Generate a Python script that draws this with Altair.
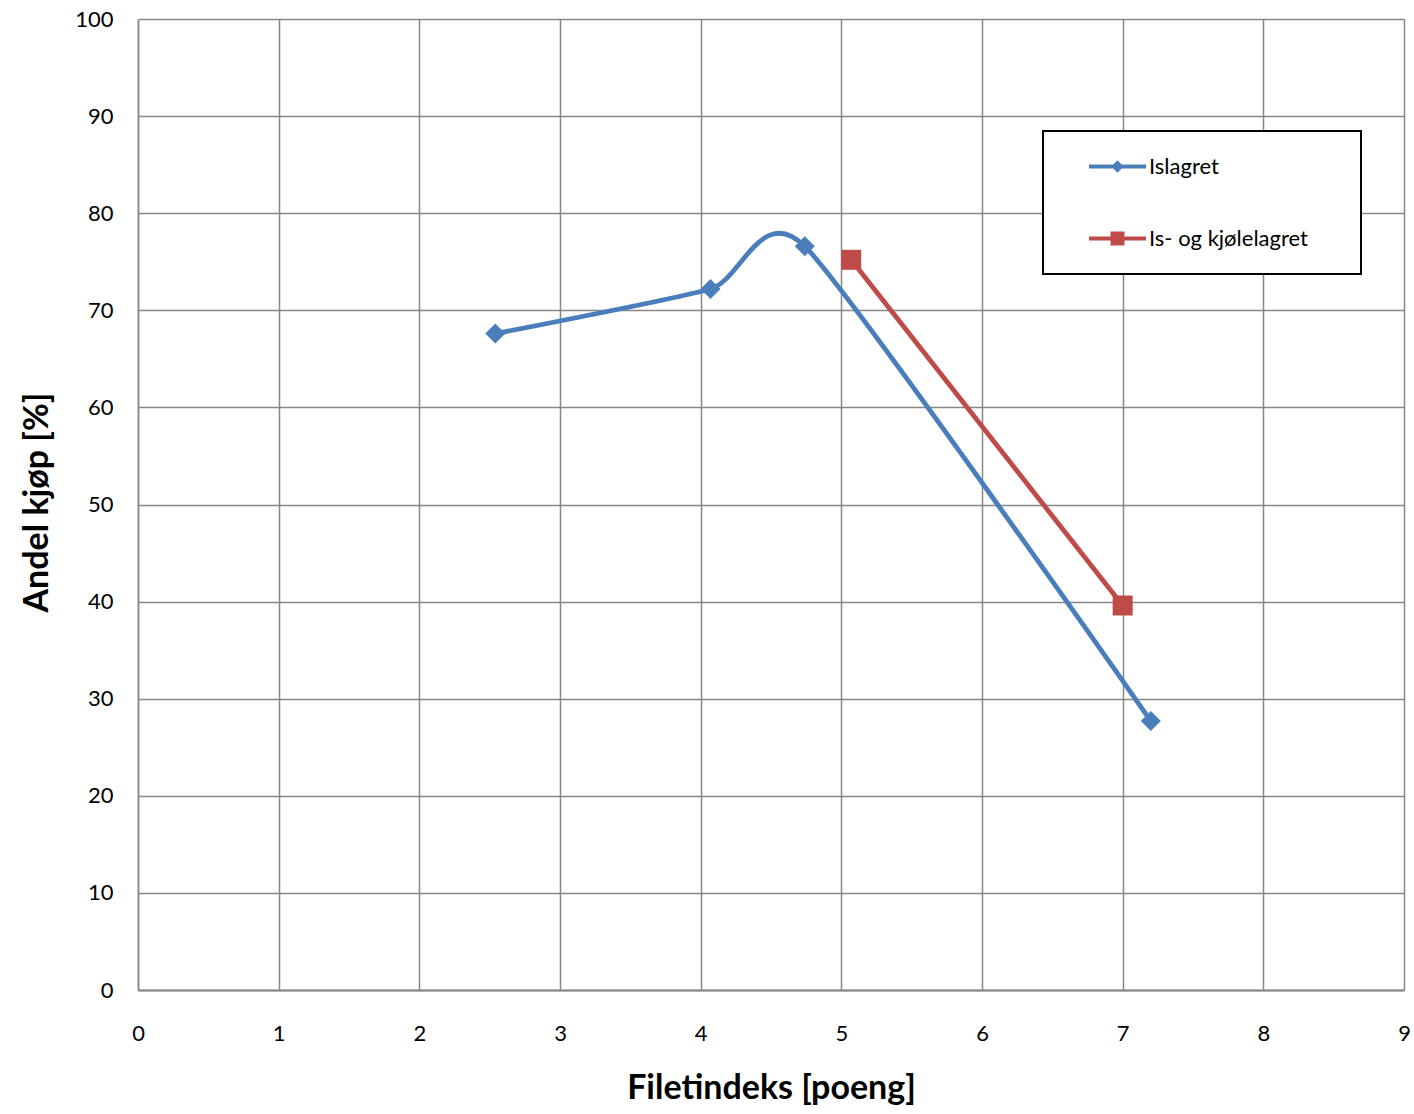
import altair as alt
import pandas as pd

series_names = ["Islagret", "Is- og kjølelagret"]
islagret_x = [2.54, 4.07, 4.74, 7.20]
islagret_y = [67.6, 72.2, 76.6, 27.7]
kjole_x = [5.07, 7.00]
kjole_y = [75.2, 39.6]
x_ticks = list(range(0, 10))
y_ticks = list(range(0, 101, 10))

colors = ["#4a7ebb", "#be4b48"]
legend_paths = [
    "M0,-1M0,1M-1,-0.07H1V0.07H-1Z M0,-0.217L0.217,0L0,0.217L-0.217,0Z",
    "M0,-1M0,1M-1,-0.07H1V0.07H-1Z M-0.245,-0.245H0.245V0.245H-0.245Z",
]

rows = []
for xv, yv in zip(islagret_x, islagret_y):
    rows.append({"serie": series_names[0], "x": xv, "y": yv})
for xv, yv in zip(kjole_x, kjole_y):
    rows.append({"serie": series_names[1], "x": xv, "y": yv})
df = pd.DataFrame(rows)

grid_col = "#878787"

x_enc = alt.X(
    "x:Q",
    scale=alt.Scale(domain=[0, 9], nice=False),
    axis=alt.Axis(
        values=x_ticks, grid=True, ticks=False, labelFlush=False,
        labelFontSize=22, labelPadding=33, labelColor="black",
        domainColor=grid_col, domainWidth=2,
        gridColor=grid_col, gridWidth=1.5,
        title="Filetindeks [poeng]", titleFontSize=34, titleFontWeight="bold",
        titleColor="black", titleBaseline="alphabetic", titleY=108,
    ),
)
y_enc = alt.Y(
    "y:Q",
    scale=alt.Scale(domain=[0, 100], nice=False),
    axis=alt.Axis(
        values=y_ticks, grid=True, ticks=False,
        labelFontSize=22, labelPadding=25, labelColor="black",
        domainColor=grid_col, domainWidth=1.5,
        gridColor=grid_col, gridWidth=1.5,
        title="Andel kjøp [%]", titleFontSize=34, titleFontWeight="bold",
        titleColor="black", titleBaseline="alphabetic", titleX=-91, titleY=483,
        titleAngle=270, titleAlign="center",
    ),
)

legend = alt.Legend(
    title=" ", titleOrient="right", titlePadding=46, titleFontSize=10,
    orient="none", legendX=905, legendY=112,
    padding=7, strokeColor="black",
    symbolSize=3249, symbolStrokeWidth=0, symbolOffset=39,
    labelOffset=3, rowPadding=15,
    labelFontSize=22, labelColor="black", labelLimit=400,
    fillColor="white",
)

color_enc = alt.Color("serie:N", scale=alt.Scale(domain=series_names, range=colors), legend=legend)

base = alt.Chart(df)

blue_line = base.transform_filter(alt.datum.serie == series_names[0]).mark_line(
    interpolate="cardinal", tension=0.4, strokeWidth=4.8
).encode(x=x_enc, y=y_enc, color=color_enc)

red_line = base.transform_filter(alt.datum.serie == series_names[1]).mark_line(
    interpolate="linear", strokeWidth=4.8
).encode(x=x_enc, y=y_enc, color=color_enc)

blue_pts = base.transform_filter(alt.datum.serie == series_names[0]).mark_point(
    filled=True, size=400, opacity=1, shape="diamond"
).encode(x=x_enc, y=y_enc, color=color_enc)

red_pts = base.transform_filter(alt.datum.serie == series_names[1]).mark_point(
    filled=True, size=400, opacity=1, shape="square"
).encode(x=x_enc, y=y_enc, color=color_enc)

legend_layer = base.transform_filter("false").mark_point(filled=True, opacity=1).encode(
    x=x_enc, y=y_enc, color=color_enc,
    shape=alt.Shape("serie:N", scale=alt.Scale(domain=series_names, range=legend_paths), legend=legend),
)

chart = alt.layer(blue_line, red_line, blue_pts, red_pts, legend_layer).properties(
    width=1266, height=971,
    autosize=alt.AutoSizeParams(type="none"),
    padding={"left": 138, "top": 19, "right": 10, "bottom": 124},
).configure(font="Lato").configure_view(stroke=None).configure_legend(strokeWidth=2)

chart.save("out.html", embed_options={"renderer": "svg", "actions": False})
